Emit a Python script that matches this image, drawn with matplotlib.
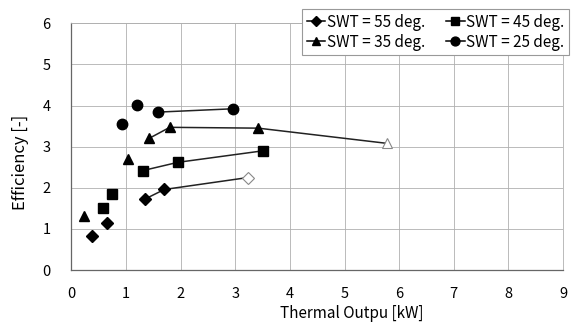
import matplotlib
matplotlib.use('Agg')
import matplotlib.pyplot as plt
from matplotlib.lines import Line2D

plt.rcParams['font.family'] = ['Noto Sans CJK JP', 'DejaVu Sans']

# thermal output [kW] and efficiency [-] for each supply water temperature
swt_labels = ['SWT = 55 deg.', 'SWT = 45 deg.', 'SWT = 35 deg.', 'SWT = 25 deg.']
x55 = [0.37, 0.65, 1.35, 1.70, 3.23]
y55 = [0.83, 1.14, 1.73, 1.96, 2.25]
x45 = [0.58, 0.75, 1.31, 1.95, 3.51]
y45 = [1.50, 1.84, 2.42, 2.62, 2.90]
x35 = [0.23, 1.03, 1.42, 1.80, 3.42, 5.78]
y35 = [1.32, 2.70, 3.20, 3.47, 3.45, 3.08]
x25 = [0.93, 1.20, 1.59, 2.95]
y25 = [3.54, 4.01, 3.84, 3.92]
# first index of the connected points, and whether the last point is hollow
line_start = [2, 2, 2, 2]
open_last = [True, False, True, False]

markers = ['D', 's', '^', 'o']
msizes = [6.3, 7.5, 7.5, 7.5]

fig = plt.figure(figsize=(5.81, 3.22), dpi=100)
ax = fig.add_axes([0.123, 0.161, 0.846, 0.767])

series = [(x55, y55), (x45, y45), (x35, y35), (x25, y25)]
for i, (xs, ys) in enumerate(series):
    s = line_start[i]
    ax.plot(xs[s:], ys[s:], color='#222222', lw=1.1, zorder=2)
    n_fill = len(xs) - 1 if open_last[i] else len(xs)
    ax.plot(xs[:n_fill], ys[:n_fill], ls='none', marker=markers[i],
            ms=msizes[i], color='black', zorder=3)
    if open_last[i]:
        ax.plot(xs[-1:], ys[-1:], ls='none', marker=markers[i], ms=msizes[i],
                mfc='white', mec='#888888', mew=0.8, zorder=3)

ax.set_xlim(0, 9)
ax.set_ylim(0, 6)
ax.set_xticks(range(0, 10))
ax.set_yticks(range(0, 7))
ax.grid(True, color='#b0b0b0', lw=0.6)
ax.set_axisbelow(True)
ax.tick_params(axis='x', length=0, labelsize=10.5, pad=12)
ax.tick_params(axis='y', length=0, labelsize=10.5, pad=15)
for side in ['top', 'right']:
    ax.spines[side].set_color('#b0b0b0')
    ax.spines[side].set_linewidth(0.6)
for side in ['left', 'bottom']:
    ax.spines[side].set_color('#666666')
    ax.spines[side].set_linewidth(0.9)

ax.set_xlabel('Thermal Outpu [kW]', fontsize=11)
ax.set_ylabel('Efficiency [-]', fontsize=12)
# axis titles sit off-centre, shifted right and down
ax.xaxis.set_label_coords(0.571, -0.14)
ax.yaxis.set_label_coords(-0.087, 0.438)

handles = [Line2D([], [], color='black', lw=1.1, marker=m, ms=ms * 0.85)
           for m, ms in zip(markers, msizes)]
# column-wise fill: 55 and 35 in the first column, 45 and 25 in the second
order = [0, 2, 1, 3]
leg = fig.legend([handles[i] for i in order], [swt_labels[i] for i in order],
                 loc='upper right', bbox_to_anchor=(569 / 581, 1 - 9 / 322),
                 borderaxespad=0, ncol=2, fontsize=11, handlelength=1.2,
                 handletextpad=0.1, columnspacing=1.4, labelspacing=0.2,
                 borderpad=0.3, fancybox=False, framealpha=1,
                 edgecolor='#999999')
leg.get_frame().set_linewidth(0.8)

fig.savefig('out.png', dpi=100)
plt.close()
